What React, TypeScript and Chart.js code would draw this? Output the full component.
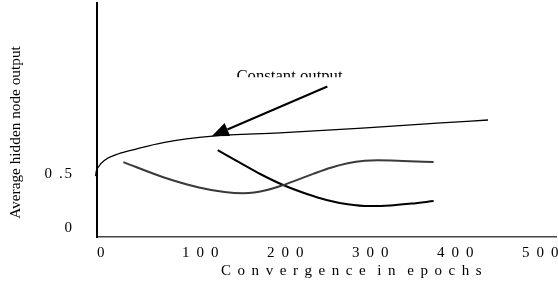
import React, { useEffect, useRef } from "react";
import { Chart, registerables } from "chart.js";
Chart.register(...registerables);

const X_TICKS = [0, 100, 200, 300, 400, 500];
const X_TICK_LABELS = ["0", "1 0 0", "2 0 0", "3 0 0", "4 0 0", "5 0 0"];
const Y_TICKS = [0, 0.5];
const Y_TICK_LABELS = ["0", "0 .5"];
const X_TITLE = "C o n v e r g e n c e  i n  e p o c h s";
const Y_TITLE = "Average hidden node output";
const ANNOTATION = "Constant output";

const CONSTANT_X = [-2.3, -1.6, 1.2, 9.4, 24.7, 44.7, 78, 136, 215, 321, 400, 460];
const CONSTANT_Y = [0.35, 0.48, 0.56, 0.63, 0.685, 0.728, 0.79, 0.85, 0.88, 0.93, 0.97, 1.0];
const NODE_A_X = [31, 78, 120, 150, 172, 185, 200, 215, 235, 255, 275, 295, 315, 330, 360, 396];
const NODE_A_Y = [0.61, 0.47, 0.375, 0.333, 0.322, 0.3285, 0.351, 0.386, 0.443, 0.503, 0.558, 0.599, 0.622, 0.627, 0.621, 0.61];
const NODE_B_X = [142, 168, 192, 219, 247, 270, 295, 320, 345, 370, 396];
const NODE_B_Y = [0.72, 0.605, 0.5, 0.398, 0.315, 0.26, 0.22, 0.203, 0.208, 0.226, 0.25];

const ARROW_FROM = [271, 1.31];
const ARROW_TO = [135, 0.85];
const ANNOTATION_AT = [226.5, 1.365];

const FONT = '"Liberation Serif", "Times New Roman", serif';

const zip = (xs: number[], ys: number[]) => xs.map((x, i) => ({ x, y: ys[i] }));

const decor = {
  id: "decor",
  beforeDraw(chart: any) {
    chart.ctx.letterSpacing = "1.6px";
  },
  beforeDatasetsDraw(chart: any) {
    chart.ctx.letterSpacing = "0px";
  },
  afterDraw(chart: any) {
    const ctx = chart.ctx;
    const xs = chart.scales.x;
    const ys = chart.scales.y;
    ctx.save();
    ctx.letterSpacing = "0px";
    ctx.fillStyle = "#000";
    ctx.strokeStyle = "#000";

    // y title
    ctx.save();
    ctx.font = `15.3px ${FONT}`;
    ctx.translate(15.5, 132.5);
    ctx.rotate(-Math.PI / 2);
    ctx.textAlign = "center";
    ctx.textBaseline = "middle";
    ctx.fillText(Y_TITLE, 0, 0);
    ctx.restore();

    // x title
    ctx.save();
    ctx.font = `15px ${FONT}`;
    ctx.letterSpacing = "1.4px";
    ctx.textAlign = "center";
    ctx.textBaseline = "alphabetic";
    ctx.fillText(X_TITLE, 352, 275);
    ctx.restore();

    // annotation text (clipped at the bottom as in the original)
    const ax = xs.getPixelForValue(ANNOTATION_AT[0]);
    const ay = ys.getPixelForValue(ANNOTATION_AT[1]);
    ctx.save();
    ctx.beginPath();
    ctx.rect(0, 0, chart.width, ay - 3.3);
    ctx.clip();
    ctx.font = `16.7px ${FONT}`;
    ctx.textAlign = "center";
    ctx.textBaseline = "alphabetic";
    ctx.fillText(ANNOTATION, ax, ay);
    ctx.restore();

    // arrow
    const fx = xs.getPixelForValue(ARROW_FROM[0]);
    const fy = ys.getPixelForValue(ARROW_FROM[1]);
    const tx = xs.getPixelForValue(ARROW_TO[0]);
    const ty = ys.getPixelForValue(ARROW_TO[1]);
    const ang = Math.atan2(ty - fy, tx - fx);
    const headLen = 17;
    const headHalf = 7;
    const bx = tx - headLen * Math.cos(ang);
    const by = ty - headLen * Math.sin(ang);
    ctx.lineWidth = 2;
    ctx.beginPath();
    ctx.moveTo(fx, fy);
    ctx.lineTo(bx, by);
    ctx.stroke();
    ctx.beginPath();
    ctx.moveTo(tx, ty);
    ctx.lineTo(bx + headHalf * Math.sin(ang), by - headHalf * Math.cos(ang));
    ctx.lineTo(bx - headHalf * Math.sin(ang), by + headHalf * Math.cos(ang));
    ctx.closePath();
    ctx.fill();
    ctx.restore();
  },
};

export default function App() {
  const ref = useRef<HTMLCanvasElement | null>(null);
  useEffect(() => {
    if (!ref.current) return;
    const chart = new Chart(ref.current, {
      type: "line",
      data: {
        datasets: [
          {
            label: "Constant output",
            data: zip(CONSTANT_X, CONSTANT_Y),
            borderColor: "#000",
            borderWidth: 1.3,
            pointRadius: 0,
            cubicInterpolationMode: "monotone",
            fill: false,
            clip: false,
          },
          {
            label: "Node A",
            data: zip(NODE_A_X, NODE_A_Y),
            borderColor: "#3a3a3a",
            borderWidth: 2,
            pointRadius: 0,
            cubicInterpolationMode: "monotone",
            fill: false,
          },
          {
            label: "Node B",
            data: zip(NODE_B_X, NODE_B_Y),
            borderColor: "#000",
            borderWidth: 2,
            pointRadius: 0,
            cubicInterpolationMode: "monotone",
            fill: false,
          },
        ],
      },
      options: {
        animation: false,
        responsive: false,
        devicePixelRatio: 1,
        layout: { padding: { top: 3, right: 2, left: 0, bottom: 0 } },
        plugins: { legend: { display: false }, tooltip: { enabled: false } },
        scales: {
          x: {
            type: "linear",
            min: 0,
            max: 540,
            grid: { display: false },
            border: { display: true, color: "#444", width: 1.5 },
            afterBuildTicks: (s: any) => {
              s.ticks = X_TICKS.map((v) => ({ value: v }));
            },
            afterFit: (s: any) => {
              s.height = 44;
              s.paddingLeft = 0;
              s.paddingRight = 0;
              s.paddingTop = 0;
              s.paddingBottom = 0;
            },
            ticks: {
              align: "start",
              padding: -1,
              maxRotation: 0,
              autoSkip: false,
              color: "#000",
              font: { family: FONT, size: 15 },
              callback: (v: any) => X_TICK_LABELS[X_TICKS.indexOf(Number(v))] ?? "",
            },
          },
          y: {
            type: "linear",
            min: -0.0833,
            max: 2.083,
            grid: { display: false },
            border: { display: true, color: "#000", width: 2 },
            afterBuildTicks: (s: any) => {
              s.ticks = Y_TICKS.map((v) => ({ value: v }));
            },
            afterFit: (s: any) => {
              s.width = 97;
              s.paddingTop = 0;
              s.paddingBottom = 0;
              s.paddingLeft = 0;
              s.paddingRight = 0;
            },
            ticks: {
              padding: 15.5,
              color: "#000",
              font: { family: FONT, size: 15 },
              callback: (v: any) => Y_TICK_LABELS[Y_TICKS.indexOf(Number(v))] ?? "",
            },
          },
        },
      },
      plugins: [decor],
    } as any);
    return () => chart.destroy();
  }, []);
  return (
    <div style={{ position: "fixed", left: 0, top: 0, width: 558, height: 281, background: "#fff" }}>
      <canvas ref={ref} width={558} height={281} style={{ display: "block" }} />
    </div>
  );
}
